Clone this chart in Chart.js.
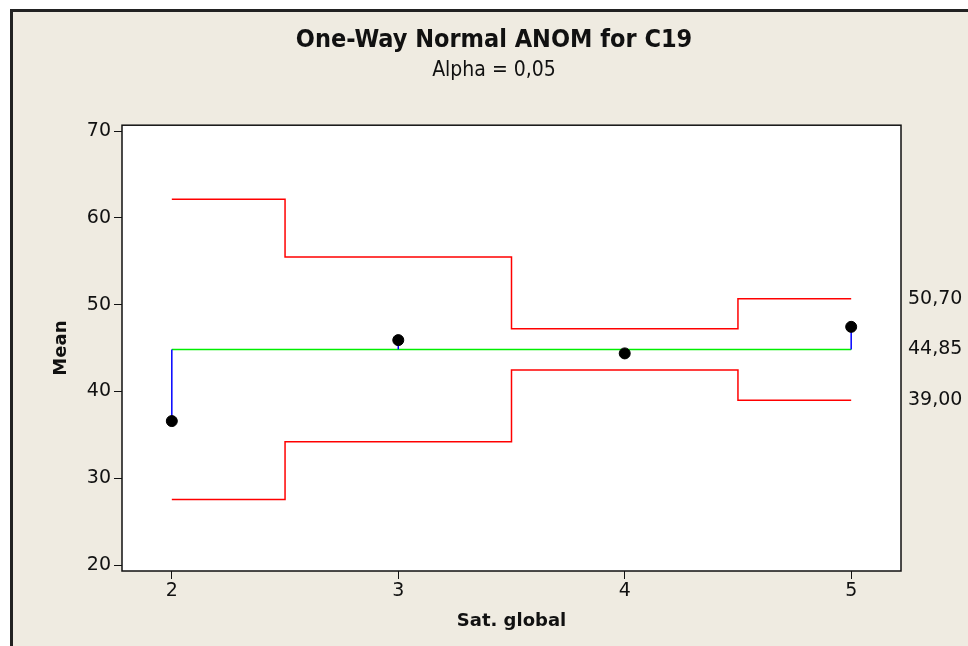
<!DOCTYPE html>
<html>
<head>
<meta charset="utf-8">
<script src="https://cdn.jsdelivr.net/npm/chart.js@4.4.1/dist/chart.umd.min.js"></script>
<style>
  html, body { margin: 0; padding: 0; background: #fff; overflow: hidden; }
  #frame {
    position: absolute; left: 10px; top: 9px; width: 1000px; height: 700px;
    background: #efebe1; border-left: 3px solid #222; border-top: 3px solid #222;
  }
  #chart { position: absolute; left: 0; top: 0; }
</style>
</head>
<body>
<div id="frame"></div>
<canvas id="chart" width="968" height="646"></canvas>
<script>
const groups = [2, 3, 4, 5];
const means = [36.59, 45.92, 44.39, 47.45];
const udl = [62.15, 55.5, 47.22, 50.70];
const ldl = [27.55, 34.2, 42.48, 39.00];
const center = 44.85;

const fmt = v => v.toFixed(2).replace('.', ',');

// vertical blue lines from center to each mean, broken by nulls
let stems = [];
groups.forEach((g, i) => {
  stems.push({x: g, y: center}, {x: g, y: means[i]}, {x: g + 0.5, y: null});
});

const plotFrame = {
  id: 'plotFrame',
  beforeDatasetsDraw(chart) {
    const {ctx, chartArea: a} = chart;
    ctx.save();
    ctx.fillStyle = '#fff';
    ctx.fillRect(a.left, a.top, a.right - a.left, a.bottom - a.top);
    ctx.restore();
  },
  afterDraw(chart) {
    const {ctx, chartArea: a, scales} = chart;
    ctx.save();
    ctx.strokeStyle = '#111';
    ctx.lineWidth = 1.5;
    ctx.strokeRect(a.left, a.top, a.right - a.left, a.bottom - a.top);
    // limit labels on the right
    ctx.fillStyle = '#111';
    ctx.font = '19px "DejaVu Sans"';
    ctx.textBaseline = 'middle';
    ctx.textAlign = 'left';
    const n = groups.length - 1;
    [udl[n], center, ldl[n]].forEach(v => {
      ctx.fillText(fmt(v), a.right + 7, scales.y.getPixelForValue(v));
    });
    ctx.restore();
  }
};

new Chart(document.getElementById('chart'), {
  type: 'line',
  data: {
    datasets: [{
      label: 'Mean',
      data: groups.map((g, i) => ({x: g, y: means[i]})),
      showLine: false,
      pointRadius: 5.5,
      pointBackgroundColor: '#000',
      pointBorderColor: '#000',
    }, {
      label: 'Stems',
      data: stems,
      borderColor: '#0000ff',
      borderWidth: 1.5,
      pointRadius: 0,
      spanGaps: false,
    }, {
      label: 'Center',
      data: [{x: groups[0], y: center}, {x: groups[groups.length - 1], y: center}],
      borderColor: '#00ee00',
      borderWidth: 1.5,
      pointRadius: 0,
    }, {
      label: 'UDL',
      data: groups.map((g, i) => ({x: g, y: udl[i]})),
      stepped: 'middle',
      borderColor: '#ff0000',
      borderWidth: 1.5,
      pointRadius: 0,
    }, {
      label: 'LDL',
      data: groups.map((g, i) => ({x: g, y: ldl[i]})),
      stepped: 'middle',
      borderColor: '#ff0000',
      borderWidth: 1.5,
      pointRadius: 0,
    }]
  },
  options: {
    responsive: false,
    animation: false,
    layout: {padding: {left: 20, right: 0, top: 0, bottom: 0}},
    plugins: {
      legend: {display: false},
      tooltip: {enabled: false},
      title: {
        display: true,
        text: 'One-Way Normal ANOM for C19',
        color: '#111',
        font: {family: '"DejaVu Sans Condensed"', size: 25, weight: 'bold'},
        padding: {top: 25, bottom: 3},
      },
      subtitle: {
        display: true,
        text: 'Alpha = 0,05',
        color: '#111',
        font: {family: '"DejaVu Sans Condensed"', size: 21},
        padding: {top: 0, bottom: 42},
      }
    },
    scales: {
      x: {
        type: 'linear',
        min: 1.78,
        max: 5.22,
        afterFit: s => { s.height = 75; },
        border: {display: false},
        grid: {drawOnChartArea: false, color: '#111', tickLength: 8},
        ticks: {
          stepSize: 1, includeBounds: false, padding: 1, color: '#111',
          font: {family: '"DejaVu Sans"', size: 19}
        },
        title: {
          display: true, text: 'Sat. global', color: '#111',
          font: {family: '"DejaVu Sans"', size: 18, weight: 'bold'},
          padding: {top: 0, bottom: 14}
        }
      },
      y: {
        min: 19.31,
        max: 70.69,
        afterFit: s => { s.width = 102; },
        border: {display: false},
        grid: {drawOnChartArea: false, color: '#111', tickLength: 8},
        ticks: {
          stepSize: 10, includeBounds: false, padding: 3, color: '#111',
          font: {family: '"DejaVu Sans"', size: 19}
        },
        title: {
          display: true, text: 'Mean', color: '#111',
          font: {family: '"DejaVu Sans"', size: 18, weight: 'bold'},
          padding: {top: 31, bottom: 0}
        }
      },
      // empty right-hand axis that only reserves room for the limit labels
      yRight: {
        position: 'right',
        afterFit: s => { s.width = 67; },
        border: {display: false},
        grid: {display: false},
        ticks: {display: false}
      }
    }
  },
  plugins: [plotFrame]
});
</script>
</body>
</html>
